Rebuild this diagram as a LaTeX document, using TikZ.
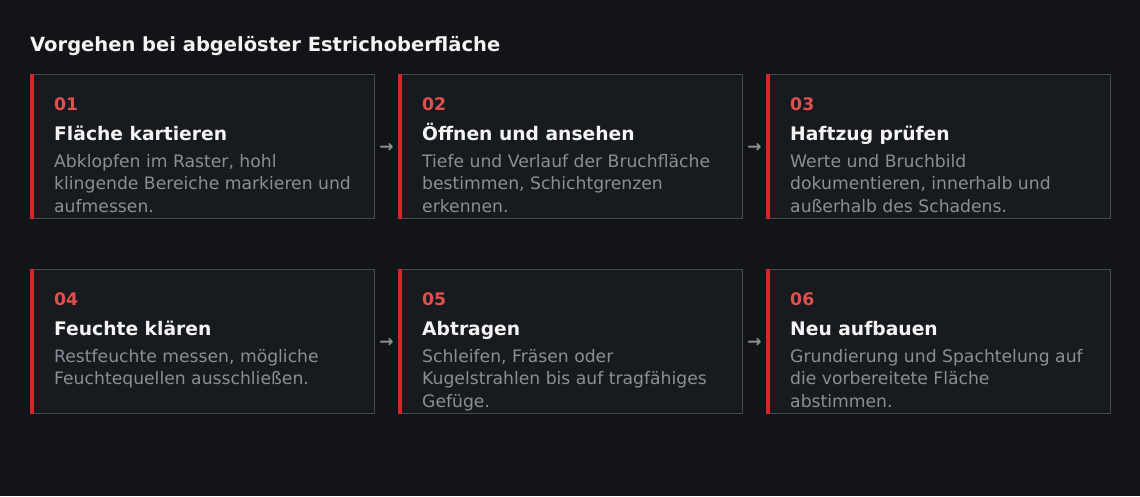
\documentclass[tikz,border=0pt]{standalone}
\usepackage{fontspec}
\setmainfont{DejaVu Sans}
\usetikzlibrary{calc}
\definecolor{bgc}{HTML}{121417}
\definecolor{cardc}{HTML}{171A1E}
\definecolor{edgec}{HTML}{45484D}
\definecolor{barc}{HTML}{D7262B}
\definecolor{numc}{HTML}{E0504F}
\definecolor{titc}{HTML}{F4F4F4}
\definecolor{bodyc}{HTML}{8B8F96}
\tikzset{
  cardbox/.style={draw=edgec, fill=cardc, line width=1pt, rectangle, inner sep=0pt,
    minimum width=344pt, minimum height=144pt, anchor=north west},
  numtext/.style={anchor=base west, inner sep=0pt, text=numc, font=\fontsize{17.3}{20}\selectfont\bfseries},
  tittext/.style={anchor=base west, inner sep=0pt, text=titc, font=\fontsize{18.7}{22}\selectfont\bfseries},
  bodytext/.style={anchor=base west, inner sep=0pt, text=bodyc, font=\fontsize{17.2}{22.4}\selectfont},
  arrowglyph/.style={inner sep=0pt, text=bodyc, font=\fontsize{17}{20}\selectfont\bfseries},
  headtext/.style={anchor=base west, inner sep=0pt, text=titc, font=\fontsize{19.5}{22}\selectfont\bfseries}
}
\newcommand\stepcard[6]{%
  \node[cardbox] (#1) at (#2,#3) {};
  \fill[barc] (#1.north west) rectangle ($(#1.south west)+(4,0)$);
  \node[numtext] (#1n) at ($(#2,#3)+(24,36.5)$) {#4};
  \node[tittext] (#1t) at ($(#2,#3)+(24,66.5)$) {#5};
  \node[bodytext] (#1b) at ($(#2,#3)+(24,93.5)$) {\parbox[t]{330pt}{\raggedright #6}};
}
\begin{document}
\begin{tikzpicture}[x=1pt,y=-1pt]
\fill[bgc] (0,0) rectangle (1140,496);
\node[headtext] (head) at (30,51.5) {Vorgehen bei abgelöster Estrichoberfläche};
\stepcard{c1}{30}{74}{01}{Fläche kartieren}{Abklopfen im Raster, hohl\\klingende Bereiche markieren und\\aufmessen.}
\stepcard{c2}{398}{74}{02}{Öffnen und ansehen}{Tiefe und Verlauf der Bruchfläche\\bestimmen, Schichtgrenzen\\erkennen.}
\stepcard{c3}{766}{74}{03}{Haftzug prüfen}{Werte und Bruchbild\\dokumentieren, innerhalb und\\außerhalb des Schadens.}
\stepcard{c4}{30}{269}{04}{Feuchte klären}{Restfeuchte messen, mögliche\\Feuchtequellen ausschließen.}
\stepcard{c5}{398}{269}{05}{Abtragen}{Schleifen, Fräsen oder\\Kugelstrahlen bis auf tragfähiges\\Gefüge.}
\stepcard{c6}{766}{269}{06}{Neu aufbauen}{Grundierung und Spachtelung auf\\die vorbereitete Fläche\\abstimmen.}
\node[arrowglyph] (a12) at ($(c1.east)!0.5!(c2.west)+(0,1.5)$) {→};
\node[arrowglyph] (a23) at ($(c2.east)!0.5!(c3.west)+(0,1.5)$) {→};
\node[arrowglyph] (a45) at ($(c4.east)!0.5!(c5.west)+(0,1.5)$) {→};
\node[arrowglyph] (a56) at ($(c5.east)!0.5!(c6.west)+(0,1.5)$) {→};
\end{tikzpicture}
\end{document}
